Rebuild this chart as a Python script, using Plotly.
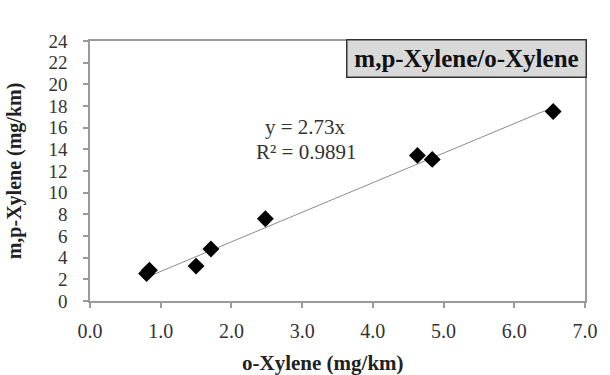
import plotly.graph_objects as go

# Data
o_xylene = [0.80, 0.84, 1.50, 1.71, 2.48, 4.63, 4.84, 6.55]
mp_xylene = [2.54, 2.85, 3.22, 4.80, 7.59, 13.44, 13.07, 17.49]
slope = 2.73
r2 = 0.9891
x_ticks = [0, 1, 2, 3, 4, 5, 6, 7]
y_ticks = list(range(0, 25, 2))

trend_x = [min(o_xylene), max(o_xylene)]
trend_y = [slope * v for v in trend_x]

FONT = "Liberation Serif"
AX = "#9a9a9a"
TXT = "#333333"

fig = go.Figure()
fig.add_trace(go.Scatter(x=trend_x, y=trend_y, mode="lines",
                         line=dict(color="#8c8c8c", width=1), hoverinfo="skip"))
fig.add_trace(go.Scatter(x=o_xylene, y=mp_xylene, mode="markers",
                         marker=dict(symbol="diamond", size=13, color="black")))

fig.update_layout(
    width=610, height=375,
    margin=dict(l=90, r=17, t=41, b=74),
    paper_bgcolor="white", plot_bgcolor="white",
    showlegend=False,
    font=dict(family=FONT, color=TXT, size=20),
    xaxis=dict(range=[0, 7], tickvals=x_ticks, tickformat=".1f",
               showgrid=False, zeroline=False, showline=True, linecolor=AX, linewidth=1.5,
               mirror=True, ticks="outside", ticklen=5, tickcolor=AX, tickwidth=1.5,
               ticklabelstandoff=6,
               tickfont=dict(size=20, family=FONT, color=TXT)),
    yaxis=dict(range=[0, 24], tickvals=y_ticks,
               showgrid=False, zeroline=False, showline=True, linecolor=AX, linewidth=1.5,
               mirror=True, ticks="outside", ticklen=5, tickcolor=AX, tickwidth=1.5,
               ticklabelstandoff=12,
               tickfont=dict(size=19, family=FONT, color=TXT),
               title=dict(text="<b>m,p-Xylene (mg/km)</b>", font=dict(size=20, family=FONT, color="#222222"),
                          standoff=21)),
)

# x-axis title (sits slightly left of the plot centre, near the bottom edge as in the original)
fig.add_annotation(x=0.47, y=(301 - 363) / 260, xref="paper", yref="paper",
                   xanchor="center", yanchor="middle",
                   text="<b>o-Xylene (mg/km)</b>", showarrow=False,
                   font=dict(size=21, family=FONT, color="#222222"))

fig.add_annotation(x=3.05, y=16.05, xref="x", yref="y",
                   text=f"y = {slope}x", showarrow=False,
                   font=dict(size=21, family=FONT, color=TXT))
fig.add_annotation(x=3.05, y=13.8, xref="x", yref="y",
                   text=f"R² = {r2}", showarrow=False,
                   font=dict(size=21, family=FONT, color=TXT))

fig.add_annotation(x=1, y=(301 - 39) / 260, xref="paper", yref="paper",
                   xanchor="right", yanchor="top", xshift=2,
                   text="<b>m,p-Xylene/o-Xylene</b>", showarrow=False,
                   font=dict(size=25, family=FONT, color="#111111"),
                   bgcolor="#d9d9d9", bordercolor="#333333", borderwidth=1.5, borderpad=2,
                   width=234, height=32)

fig.write_html("out.html")
